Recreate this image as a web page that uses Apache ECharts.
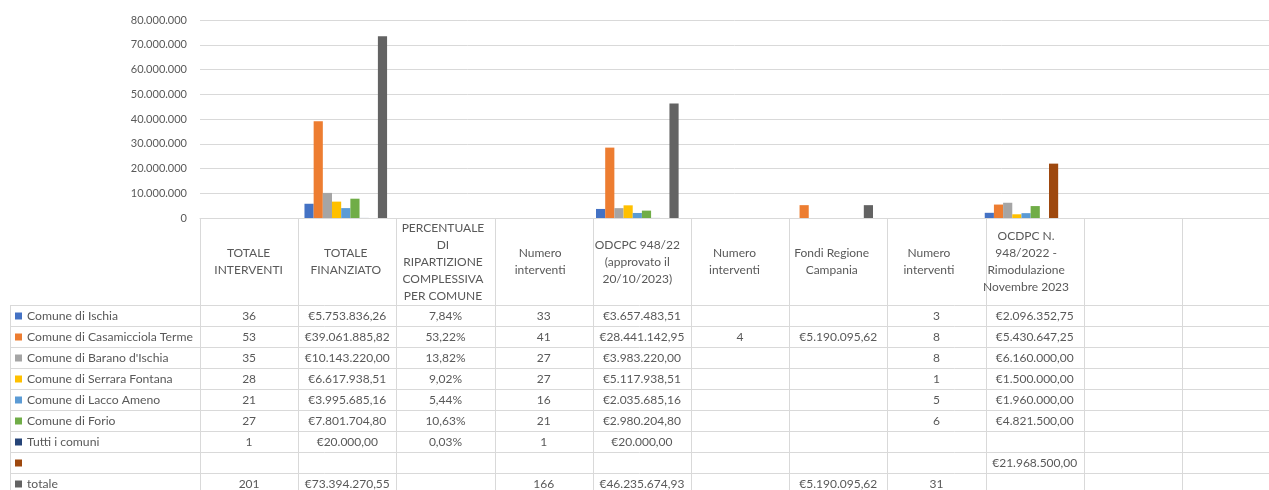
<!DOCTYPE html>
<html>
<head>
<meta charset="utf-8">
<script src="https://cdn.jsdelivr.net/npm/echarts@6/dist/echarts.min.js"></script>
<style>
  html, body { margin: 0; padding: 0; background: #fff; }
  #main { width: 1269px; height: 490px; }
</style>
</head>
<body>
<div id="main"></div>
<script>
// intestazioni colonne (categorie asse x)
var categories = [
  'TOTALE\nINTERVENTI',
  'TOTALE\nFINANZIATO',
  'PERCENTUALE\nDI\nRIPARTIZIONE\nCOMPLESSIVA\nPER COMUNE',
  'Numero\ninterventi',
  'ODCPC 948/22\n(approvato il\n20/10/2023)',
  'Numero\ninterventi',
  'Fondi Regione\nCampania',
  'Numero\ninterventi',
  'OCDPC N.\n948/2022 -\nRimodulazione\nNovembre 2023',
  '',
  ''
];
// formato di ogni colonna nella tabella dati
var columnFormat = ['n', 'eur', 'pct', 'n', 'eur', 'n', 'eur', 'n', 'eur', '', ''];

var seriesNames = [
  'Comune di Ischia', 'Comune di Casamicciola Terme', "Comune di Barano d'Ischia",
  'Comune di Serrara Fontana', 'Comune di Lacco Ameno', 'Comune di Forio',
  'Tutti i comuni', ' ', 'totale'
];
var seriesColors = ['#4472C4', '#ED7D31', '#A5A5A5', '#FFC000', '#5B9BD5', '#70AD47', '#264478', '#9E480E', '#636363'];

var ischia       = [36, 5753836.26, 0.0784, 33, 3657483.51, null, null, 3, 2096352.75, null, null];
var casamicciola = [53, 39061885.82, 0.5322, 41, 28441142.95, 4, 5190095.62, 8, 5430647.25, null, null];
var barano       = [35, 10143220.00, 0.1382, 27, 3983220.00, null, null, 8, 6160000.00, null, null];
var serrara      = [28, 6617938.51, 0.0902, 27, 5117938.51, null, null, 1, 1500000.00, null, null];
var lacco        = [21, 3995685.16, 0.0544, 16, 2035685.16, null, null, 5, 1960000.00, null, null];
var forio        = [27, 7801704.80, 0.1063, 21, 2980204.80, null, null, 6, 4821500.00, null, null];
var tutti        = [1, 20000.00, 0.0003, 1, 20000.00, null, null, null, null, null, null];
var senzaNome    = [null, null, null, null, null, null, null, null, 21968500.00, null, null];
var totale       = [201, 73394270.55, null, 166, 46235674.93, null, 5190095.62, 31, null, null, null];

var seriesData = [ischia, casamicciola, barano, serrara, lacco, forio, tutti, senzaNome, totale];

var yTicks = [0, 80000000, 10000000]; // min, max, passo

// layout
var gridLeft = 200, gridTop = 20, gridHeight = 198;
var colW = 98.2;
var rowTop = 305, rowH = 21;
var tableLeft = 10;
var W = 1269, H = 490;
var FONT = 'Lato, "Open Sans", sans-serif';
var TXT = '#595959';
var LINE = '#d9d9d9';

function dots(intStr) {
  return intStr.replace(/\B(?=(\d{3})+(?!\d))/g, '.');
}
function formatCell(v, fmt) {
  if (v === null || v === undefined) return '';
  if (fmt === 'eur') {
    var p = v.toFixed(2).split('.');
    return '€' + dots(p[0]) + ',' + p[1];
  }
  if (fmt === 'pct') return (v * 100).toFixed(2).replace('.', ',') + '%';
  return String(v);
}

var myChart = echarts.init(document.getElementById('main'));

// tabella dati sotto il grafico
var graphics = [];
for (var r = 0; r <= seriesNames.length; r++) {
  var y = rowTop + r * rowH + 0.5;
  graphics.push({ type: 'line', silent: true, shape: { x1: tableLeft, y1: y, x2: W, y2: y }, style: { stroke: LINE, lineWidth: 1 } });
}
graphics.push({ type: 'line', silent: true, shape: { x1: tableLeft + 0.5, y1: rowTop, x2: tableLeft + 0.5, y2: H }, style: { stroke: LINE, lineWidth: 1 } });
// bordi verticali delle colonne
for (var c = 0; c <= categories.length; c++) {
  var x = Math.round(gridLeft + c * colW) + 0.5;
  graphics.push({ type: 'line', silent: true, shape: { x1: x, y1: gridTop + gridHeight, x2: x, y2: H }, style: { stroke: LINE, lineWidth: 1 } });
}

seriesNames.forEach(function (name, r) {
  var cy = rowTop + r * rowH + rowH / 2 + 1;
  graphics.push({ type: 'rect', silent: true, shape: { x: 15, y: cy - 4, width: 7, height: 7 }, style: { fill: seriesColors[r] } });
  graphics.push({ type: 'text', silent: true, x: 27, y: cy, style: { text: name, fill: TXT, font: '12.2px ' + FONT, verticalAlign: 'middle', align: 'left' } });
  seriesData[r].forEach(function (v, c) {
    var t = formatCell(v, columnFormat[c]);
    if (!t) return;
    graphics.push({ type: 'text', silent: true, x: gridLeft + (c + 0.5) * colW, y: cy, style: { text: t, fill: TXT, font: '12px ' + FONT, verticalAlign: 'middle', align: 'center' } });
  });
});

myChart.setOption({
  animation: false,
  backgroundColor: '#fff',
  textStyle: { fontFamily: FONT },
  grid: { left: gridLeft, top: gridTop, width: colW * categories.length, height: gridHeight },
  xAxis: {
    type: 'category',
    data: categories,
    axisLine: { lineStyle: { color: LINE } },
    axisTick: { show: false },
    axisLabel: {
      interval: 0, hideOverlap: false,
      color: TXT, fontSize: 12, fontFamily: FONT, lineHeight: 17,
      verticalAlign: 'middle', align: 'center', margin: 44
    }
  },
  yAxis: {
    type: 'value',
    min: yTicks[0], max: yTicks[1], interval: yTicks[2],
    axisLine: { show: false },
    axisTick: { show: false },
    splitLine: { lineStyle: { color: LINE } },
    axisLabel: {
      color: TXT, fontSize: 11, fontFamily: FONT, margin: 13,
      formatter: function (v) { return dots(String(v)); }
    }
  },
  series: seriesNames.map(function (name, i) {
    return {
      name: name,
      type: 'bar',
      data: seriesData[i],
      barGap: 0,
      barCategoryGap: '15%',
      itemStyle: { color: seriesColors[i] }
    };
  }),
  graphic: graphics
});
</script>
</body>
</html>
